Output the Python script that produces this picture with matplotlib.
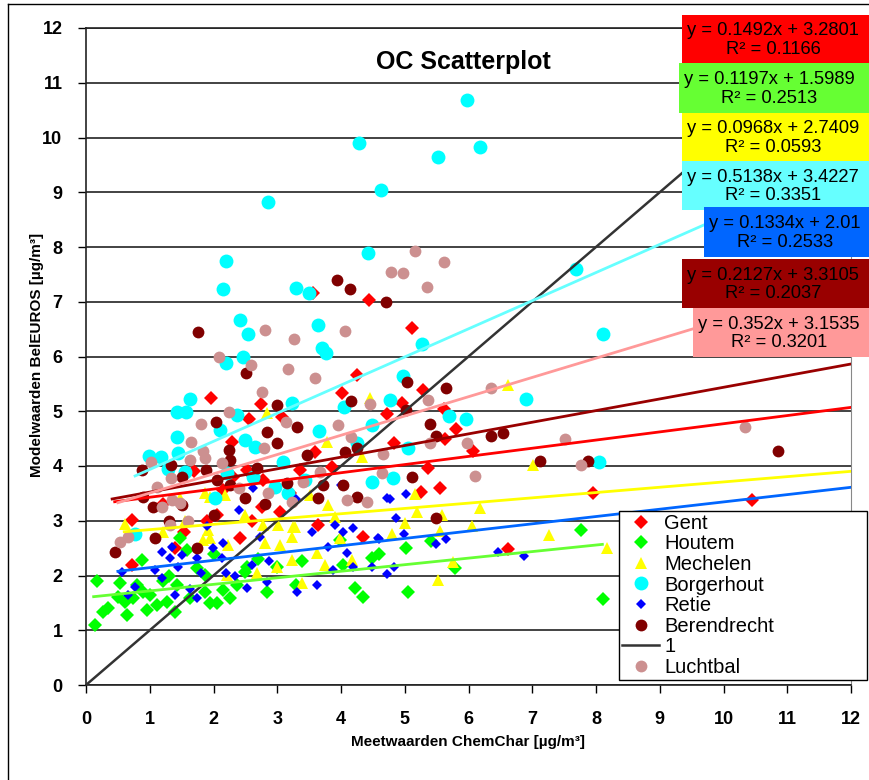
import matplotlib
matplotlib.use("Agg")
import matplotlib.pyplot as plt
from matplotlib.patches import Rectangle
from matplotlib.lines import Line2D

plt.rcParams['font.family'] = ['Liberation Sans', 'DejaVu Sans']

# ---- data ----
gent_x = [0.72, 0.72, 1.40, 1.54, 1.96, 2.05, 2.15, 2.29, 2.42, 2.52, 2.56, 2.75, 2.76, 2.78, 3.04,
          3.07, 3.36, 3.56, 3.59, 3.64, 3.86, 4.01, 4.25, 4.34, 4.44, 4.72, 4.83, 4.96, 5.11, 5.25,
          5.29, 5.36, 5.55, 5.62, 5.63, 5.80, 6.07, 6.62, 7.95, 10.45, 1.20, 1.90, 2.30, 2.60, 3.20, 1.70]
gent_y = [3.01, 2.19, 2.50, 2.79, 5.24, 3.10, 3.56, 4.44, 2.68, 3.93, 4.86, 5.13, 3.25, 3.74, 3.16,
          4.90, 3.93, 7.16, 4.26, 2.92, 3.98, 5.33, 5.66, 2.70, 7.03, 4.95, 4.42, 5.15, 6.52, 3.53,
          5.39, 3.96, 3.60, 5.04, 4.49, 4.68, 4.27, 2.48, 3.51, 3.38, 3.30, 3.00, 3.80, 3.00, 3.50, 3.90]

houtem_x = [0.14, 0.17, 0.27, 0.35, 0.53, 0.61, 0.64, 0.74, 0.80, 0.88, 0.96, 1.00, 1.11, 1.27, 1.40,
            1.43, 1.47, 1.58, 1.63, 1.74, 1.87, 1.87, 1.95, 2.05, 2.15, 2.26, 2.37, 2.49, 2.52, 2.84,
            3.00, 3.39, 3.30, 3.98, 4.03, 4.22, 4.34, 4.49, 5.02, 5.05, 5.41, 5.79, 7.76, 8.11, 4.60,
            1.20, 0.50, 0.90, 1.30, 2.00, 2.70]
houtem_y = [1.10, 1.90, 1.33, 1.40, 1.86, 1.52, 1.28, 1.59, 1.83, 2.28, 1.37, 1.64, 1.46, 1.52, 1.33,
            1.83, 2.68, 2.47, 1.59, 2.14, 2.01, 1.70, 1.50, 1.50, 1.74, 1.59, 1.83, 2.06, 2.16, 1.70,
            2.16, 2.26, 1.83, 2.65, 2.19, 1.77, 1.61, 2.32, 2.50, 1.70, 2.63, 2.14, 2.83, 1.57, 2.40,
            1.90, 1.60, 1.70, 2.00, 2.40, 2.30]

mechelen_x = [0.61, 1.21, 1.47, 1.84, 1.87, 1.91, 1.95, 1.95, 2.18, 2.21, 2.23, 2.68, 2.78, 2.81, 2.84,
              3.00, 3.01, 3.04, 3.23, 3.23, 3.25, 3.28, 3.39, 3.51, 3.62, 3.75, 3.78, 3.80, 3.91, 3.98,
              4.17, 4.33, 4.45, 4.80, 5.00, 5.16, 5.19, 5.52, 5.55, 5.58, 5.76, 6.05, 6.18, 6.62, 7.01,
              7.26, 8.17, 1.55, 2.50]
mechelen_y = [2.94, 2.79, 3.42, 2.65, 3.51, 2.83, 2.68, 3.43, 3.47, 2.01, 2.56, 2.05, 2.92, 2.59, 4.97,
              2.16, 2.92, 2.56, 2.70, 2.28, 2.89, 2.89, 1.86, 3.47, 2.41, 2.19, 4.44, 3.29, 3.07, 2.68,
              2.28, 4.16, 5.24, 2.76, 2.96, 3.49, 3.16, 1.92, 2.81, 3.10, 2.25, 2.90, 3.23, 5.48, 4.02,
              2.74, 2.50, 3.00, 3.10]

borger_x = [0.77, 0.99, 1.18, 1.29, 1.43, 1.43, 1.44, 1.55, 1.57, 1.63, 2.02, 2.10, 2.15, 2.20, 2.20,
            2.21, 2.37, 2.42, 2.46, 2.49, 2.54, 2.62, 2.65, 2.85, 2.96, 3.09, 3.17, 3.23, 3.29, 3.44,
            3.50, 3.64, 3.65, 3.70, 3.76, 4.05, 4.25, 4.28, 4.42, 4.49, 4.49, 4.63, 4.77, 4.82, 4.97,
            5.05, 5.27, 5.52, 5.69, 5.96, 5.98, 6.18, 6.90, 7.69, 8.05, 8.11]
borger_y = [2.76, 4.18, 4.16, 3.95, 4.99, 4.53, 4.24, 3.89, 4.99, 5.22, 3.42, 4.66, 7.23, 7.74, 5.88,
            3.87, 4.93, 6.67, 5.99, 4.47, 6.41, 3.80, 4.35, 8.82, 3.62, 4.07, 3.51, 5.15, 7.25, 3.74,
            7.16, 6.58, 4.64, 6.16, 6.06, 5.08, 4.42, 9.90, 7.89, 4.75, 3.71, 9.04, 5.21, 3.78, 5.64,
            4.33, 6.23, 9.64, 4.91, 4.86, 10.68, 9.83, 5.22, 7.60, 4.07, 6.41]

retie_x = [0.56, 0.66, 0.77, 1.08, 1.19, 1.19, 1.32, 1.35, 1.40, 1.44, 1.51, 1.63, 1.74, 1.74, 1.80,
           1.99, 2.13, 2.15, 2.20, 2.33, 2.53, 2.60, 2.62, 2.73, 2.84, 2.87, 3.31, 3.55, 3.62, 3.80,
           3.87, 3.91, 4.00, 4.03, 4.09, 4.19, 4.19, 4.49, 4.58, 4.60, 4.72, 4.72, 4.77, 4.83, 4.86,
           4.99, 5.02, 5.49, 5.65, 6.46, 6.87, 2.40, 1.90, 3.30]
retie_y = [2.06, 1.64, 1.79, 2.10, 1.95, 2.43, 2.32, 2.52, 1.64, 2.16, 2.37, 1.75, 2.32, 1.59, 2.05,
           2.50, 2.32, 2.59, 2.05, 2.00, 1.77, 2.19, 3.60, 2.70, 1.88, 2.26, 1.70, 2.79, 1.83, 2.52,
           2.10, 2.92, 3.65, 2.79, 2.41, 2.87, 2.16, 2.16, 2.68, 2.67, 3.42, 2.03, 3.40, 2.16, 3.05,
           2.76, 3.49, 2.58, 2.67, 2.43, 2.36, 3.20, 2.90, 3.40]

berend_x = [0.45, 0.88, 0.89, 1.05, 1.08, 1.33, 1.51, 1.51, 1.74, 1.76, 1.88, 2.04, 2.05, 2.24, 2.26,
            2.26, 2.49, 2.51, 2.68, 2.84, 2.99, 3.00, 3.15, 3.31, 3.46, 3.64, 3.72, 3.94, 4.03, 4.06,
            4.14, 4.16, 4.25, 4.25, 4.71, 5.02, 5.04, 5.11, 5.40, 5.49, 5.49, 5.65, 6.35, 6.54, 7.12,
            7.87, 10.85, 1.30, 2.00, 2.80]
berend_y = [2.43, 3.93, 3.43, 3.25, 2.68, 4.02, 3.80, 3.29, 2.50, 6.45, 3.93, 4.80, 3.74, 4.29, 4.11,
            3.65, 3.42, 5.70, 3.96, 4.62, 4.42, 5.11, 3.69, 4.71, 4.20, 3.42, 3.65, 7.40, 3.65, 4.26,
            7.23, 5.19, 4.33, 3.43, 7.00, 5.02, 5.53, 3.80, 4.77, 4.55, 3.05, 5.42, 4.55, 4.60, 4.09,
            4.09, 4.27, 3.00, 3.10, 3.30]

lucht_x = [0.53, 0.66, 1.02, 1.11, 1.19, 1.32, 1.33, 1.35, 1.47, 1.63, 1.65, 1.80, 1.83, 1.87, 2.09,
           2.13, 2.24, 2.59, 2.76, 2.79, 2.81, 2.85, 3.14, 3.17, 3.23, 3.26, 3.40, 3.59, 3.67, 3.95,
           4.06, 4.09, 4.16, 4.41, 4.45, 4.64, 4.66, 4.78, 4.97, 5.16, 5.35, 5.36, 5.40, 5.62, 5.98,
           6.10, 6.35, 7.51, 7.76, 10.34, 2.40, 1.60]
lucht_y = [2.61, 2.70, 4.07, 3.62, 3.25, 2.92, 3.78, 3.38, 3.32, 4.11, 4.44, 4.77, 4.27, 4.15, 5.99,
           4.05, 4.99, 5.84, 5.35, 4.33, 6.48, 3.51, 4.80, 5.77, 3.34, 6.32, 3.71, 5.61, 3.89, 4.75,
           6.47, 3.38, 4.53, 3.34, 5.13, 3.87, 4.22, 7.54, 7.52, 7.93, 7.27, 5.21, 4.42, 7.73, 4.42,
           3.82, 5.42, 4.49, 4.02, 4.71, 3.60, 3.00]

names = ['Gent', 'Houtem', 'Mechelen', 'Borgerhout', 'Retie', 'Berendrecht', 'Luchtbal']
slopes = [0.1492, 0.1197, 0.0968, 0.5138, 0.1334, 0.2127, 0.352]
intercepts = [3.2801, 1.5989, 2.7409, 3.4227, 2.01, 3.3105, 3.1535]
r2 = [0.1166, 0.2513, 0.0593, 0.3351, 0.2533, 0.2037, 0.3201]
trend_start = [0.45, 0.12, 0.6, 0.77, 0.5, 0.41, 0.5]
trend_end = [12, 8.1, 12, 12, 12, 12, 12]
eq_text = ['y = 0.1492x + 3.2801', 'y = 0.1197x + 1.5989', 'y = 0.0968x + 2.7409',
           'y = 0.5138x + 3.4227', 'y = 0.1334x + 2.01', 'y = 0.2127x + 3.3105',
           'y = 0.352x + 3.1535']

series_x = [gent_x, houtem_x, mechelen_x, borger_x, retie_x, berend_x, lucht_x]
series_y = [gent_y, houtem_y, mechelen_y, borger_y, retie_y, berend_y, lucht_y]

# ---- styles ----
W, H = 869, 780
marker_col = ['#FF0000', '#00FF00', '#FFFF00', '#00FFFF', '#0000FF', '#800000', '#CC9090']
markers = ['D', 'D', '^', 'o', 'D', 'o', 'o']
msize = [7.0, 7.0, 9.0, 10.0, 5.5, 8.5, 8.5]
line_col = ['#FF0000', '#66FF33', '#FFFF00', '#66FFFF', '#0066FF', '#990000', '#FF9999']
# label boxes in pixels: left, top, right, bottom
boxes = [(682, 15, 869, 63), (679, 63, 869, 113), (682, 113, 869, 161), (682, 161, 869, 210),
         (704, 207, 869, 257), (682, 259, 869, 308), (693, 308, 869, 357)]


def fx(px):
    return px / W


def fy(py):
    return 1 - py / H


fig = plt.figure(figsize=(W / 100, H / 100), dpi=100)
ax = fig.add_axes([fx(86), fy(685), (851 - 86) / W, (685 - 28) / H])

for i in range(7):
    ax.plot(series_x[i], series_y[i], linestyle='none', marker=markers[i], color=marker_col[i],
            markersize=msize[i], markeredgewidth=0, label=names[i], zorder=2 + i * 0.01,
            clip_on=False)

# 1:1 line
ax.plot([0, 12], [0, 12], color='#333333', lw=1.8, label='1', zorder=3)

# trend lines
for i in range(7):
    xs = [trend_start[i], trend_end[i]]
    ys = [slopes[i] * v + intercepts[i] for v in xs]
    ax.plot(xs, ys, color=line_col[i], lw=2.0, zorder=4)

ax.set_xlim(0, 12)
ax.set_ylim(0, 12)
ax.set_xticks(range(13))
ax.set_yticks(range(13))
ax.tick_params(direction='out', length=6, width=1, labelsize=13)
ax.tick_params(axis='x', pad=13)
ax.tick_params(axis='y', pad=11)
for lab in ax.get_xticklabels() + ax.get_yticklabels():
    lab.set_fontweight('bold')
ax.yaxis.grid(True, color='#222222', lw=1.2)
ax.set_axisbelow(True)
for s in ['left', 'bottom', 'top']:
    ax.spines[s].set_color('#222222')
    ax.spines[s].set_linewidth(1.2)
ax.spines['right'].set_color('#888888')

ax.set_xlabel('Meetwaarden ChemChar [µg/m³]', fontsize=11, fontweight='bold', va='center')
ax.set_ylabel('Modelwaarden BelEUROS [µg/m³]', fontsize=11, fontweight='bold', va='center')
ax.xaxis.set_label_coords((468 - 86) / 765, (685 - 742) / 657)
ax.yaxis.set_label_coords((37 - 86) / 765, (685 - 355) / 657)
fig.text(fx(463), fy(62), 'OC Scatterplot', ha='center', va='center', fontsize=18,
         fontweight='bold')

# legend: order Gent..Berendrecht, 1, Luchtbal
h, l = ax.get_legend_handles_labels()
order = [0, 1, 2, 3, 4, 5, 7, 6]
leg = ax.legend([h[k] for k in order], [l[k] for k in order], loc='lower left',
                bbox_to_anchor=((619 - 86) / 765, (685 - 680) / 657, (867 - 619) / 765,
                                (680 - 510) / 657),
                mode='expand', fontsize=14.5, labelspacing=0.08, handlelength=1.85,
                handletextpad=0.25, borderpad=0.15, borderaxespad=0, fancybox=False,
                framealpha=1, edgecolor='black')
leg.get_frame().set_linewidth(1.0)
leg.set_zorder(10)

# equation boxes
for i in range(7):
    x0, y0, x1, y1 = boxes[i]
    fig.patches.append(Rectangle((fx(x0), fy(y1)), (x1 - x0) / W, (y1 - y0) / H,
                                 transform=fig.transFigure, facecolor=line_col[i],
                                 edgecolor='none', zorder=20))
    fig.text(fx(x0 + 5), fy((y0 + y1) / 2 + 1), eq_text[i] + '\nR² = %.4f' % r2[i], ha='left',
             va='center', multialignment='center', fontsize=13.2, linespacing=1.15,
             color='black', zorder=21)

# chart area border
fig.lines.append(Line2D([fx(8), fx(8)], [0, fy(4)], transform=fig.transFigure,
                        color='black', lw=1))
fig.lines.append(Line2D([fx(8), 1], [fy(4), fy(4)], transform=fig.transFigure,
                        color='black', lw=1))

fig.savefig('out.png', dpi=100)
